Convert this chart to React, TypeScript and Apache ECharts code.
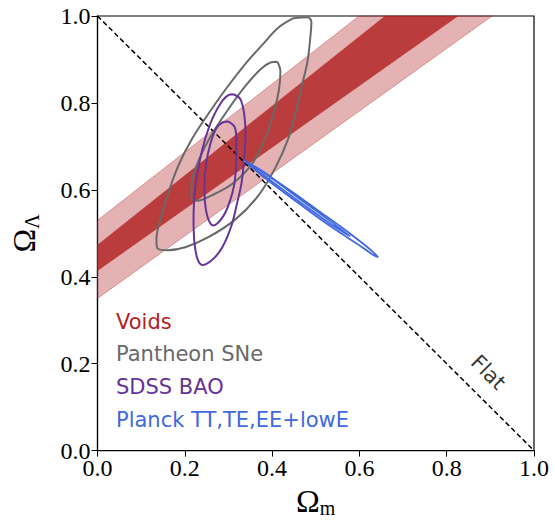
import React, { useEffect, useRef } from "react";
import * as echarts from "echarts";

// Axis range / ticks
const axisMin = 0;
const axisMax = 1;
const axisInterval = 0.2;

// Voids bands (polygon corners in data coordinates, clipped to the frame)
const voids2Sigma = [[0, 0.35], [0.904, 1.0], [0.599, 1.0], [0, 0.53]];
const voids1Sigma = [[0, 0.414], [0.826, 1.0], [0.659, 1.0], [0, 0.473]];

// Flat universe line
const flatLine = [[0, 1], [1, 0]];
const flatLabelPos = [0.895, 0.18];

// Pantheon SNe contours
const pantheonOuter = [
  [0.449, 0.995], [0.481, 0.997], [0.49, 0.986], [0.487, 0.945], [0.481, 0.895],
  [0.469, 0.843], [0.455, 0.782], [0.437, 0.718], [0.407, 0.65], [0.368, 0.586],
  [0.316, 0.532], [0.254, 0.491], [0.201, 0.468], [0.16, 0.461], [0.137, 0.466],
  [0.135, 0.486], [0.144, 0.532], [0.16, 0.586], [0.185, 0.655], [0.217, 0.718],
  [0.254, 0.775], [0.297, 0.836], [0.343, 0.895], [0.378, 0.934], [0.414, 0.973],
];
const pantheonInner = [
  [0.412, 0.895], [0.419, 0.873], [0.416, 0.832], [0.405, 0.782], [0.384, 0.718],
  [0.355, 0.661], [0.309, 0.614], [0.259, 0.586], [0.229, 0.575], [0.215, 0.582],
  [0.215, 0.609], [0.229, 0.661], [0.259, 0.723], [0.3, 0.786], [0.339, 0.839],
  [0.373, 0.877], [0.396, 0.893],
];

// SDSS BAO contours
const sdssOuter = [
  [0.311, 0.82], [0.327, 0.809], [0.336, 0.775], [0.339, 0.73], [0.336, 0.673],
  [0.33, 0.616], [0.32, 0.57], [0.307, 0.518], [0.286, 0.468], [0.263, 0.439],
  [0.24, 0.427], [0.229, 0.441], [0.222, 0.48], [0.22, 0.536], [0.224, 0.605],
  [0.233, 0.661], [0.247, 0.718], [0.265, 0.768], [0.286, 0.805], [0.3, 0.818],
];
const sdssInner = [
  [0.3, 0.757], [0.314, 0.745], [0.318, 0.718], [0.318, 0.673], [0.314, 0.616],
  [0.302, 0.57], [0.286, 0.536], [0.265, 0.518], [0.254, 0.532], [0.247, 0.564],
  [0.245, 0.609], [0.249, 0.661], [0.259, 0.707], [0.272, 0.741], [0.286, 0.755],
];

// Planck TT,TE,EE+lowE contours
const planckOuter = [
  [0.334, 0.668], [0.373, 0.646], [0.419, 0.614], [0.465, 0.582], [0.51, 0.549],
  [0.556, 0.516], [0.602, 0.481], [0.629, 0.459], [0.643, 0.445], [0.629, 0.452],
  [0.602, 0.471], [0.556, 0.501], [0.51, 0.533], [0.465, 0.566], [0.419, 0.6],
  [0.373, 0.636], [0.346, 0.659],
];
const planckInner = [
  [0.341, 0.665], [0.396, 0.629], [0.465, 0.578], [0.533, 0.528], [0.579, 0.493],
  [0.533, 0.522], [0.465, 0.571], [0.396, 0.622], [0.35, 0.656],
];

// Legend
const legendLabels = ["Voids", "Pantheon SNe", "SDSS BAO", "Planck TT,TE,EE+lowE"];
const legendColors = ["#b22222", "#696969", "#663399", "#4169e1"];

const close = (pts: number[][]) => [...pts, pts[0]];

const bandSeries = (pts: number[][], fill: string, stroke: string) => ({
  type: "custom",
  data: [0],
  silent: true,
  renderItem: (_p: any, api: any) => ({
    type: "polygon",
    shape: { points: pts.map((p) => api.coord(p)) },
    style: { fill, stroke, lineWidth: 1 },
  }),
});

const contour = (pts: number[][], color: string, width = 2) => ({
  type: "line",
  data: close(pts),
  showSymbol: false,
  symbol: "none",
  smooth: 0.35,
  silent: true,
  lineStyle: { color, width },
});

export default function App() {
  const ref = useRef<HTMLDivElement>(null);
  useEffect(() => {
    document.body.style.margin = "0";
    const chart = echarts.init(ref.current!, undefined, { renderer: "svg" });
    const serif = "'Liberation Serif', serif";
    const sans = "'DejaVu Sans', sans-serif";
    const axisCommon = {
      type: "value",
      min: axisMin,
      max: axisMax,
      interval: axisInterval,
      axisLine: { show: true, lineStyle: { color: "#000", width: 1.2 } },
      axisTick: { show: true, inside: false, length: 6, lineStyle: { color: "#000", width: 1 } },
      splitLine: { show: false },
      axisLabel: {
        color: "#000",
        fontFamily: serif,
        fontSize: 24,
        formatter: (v: number) => v.toFixed(1),
      },
    };
    const nameRich = {
      a: { fontFamily: serif, fontSize: 32, color: "#000" },
      b: { fontFamily: serif, fontSize: 20, color: "#000", padding: [15, 0, 0, 0] },
    };
    chart.setOption({
      animation: false,
      backgroundColor: "#fff",
      grid: {
        left: 97,
        top: 16,
        width: 437,
        height: 440,
        show: true,
        borderColor: "#000",
        borderWidth: 1.2,
        backgroundColor: "transparent",
      },
      xAxis: {
        ...axisCommon,
        axisLabel: { ...axisCommon.axisLabel, margin: 5 },
        name: "{a|Ω}{b|m}",
        nameLocation: "middle",
        nameGap: 30,
        nameTextStyle: { rich: nameRich },
      },
      yAxis: {
        ...axisCommon,
        axisLabel: { ...axisCommon.axisLabel, margin: 7 },
        name: "{a|Ω}{b|Λ}",
        nameLocation: "middle",
        nameRotate: 90,
        nameGap: 56,
        nameTextStyle: { rich: nameRich },
      },
      series: [
        {
          type: "line",
          data: flatLine,
          symbol: "none",
          silent: true,
          lineStyle: { color: "#000", width: 1.5, type: [5, 3] },
        },
        bandSeries(voids2Sigma, "rgba(178,34,34,0.35)", "rgba(178,34,34,0.35)"),
        bandSeries(voids1Sigma, "rgba(178,34,34,0.82)", "rgba(178,34,34,0.3)"),
        contour(pantheonOuter, "#696969"),
        contour(pantheonInner, "#696969"),
        contour(sdssOuter, "#663399"),
        contour(sdssInner, "#663399"),
        contour(planckOuter, "#4169e1", 1.8),
        contour(planckInner, "#4169e1", 1.8),
        {
          type: "scatter",
          data: [flatLabelPos],
          symbolSize: 0,
          silent: true,
          label: {
            show: true,
            position: "inside",
            formatter: "Flat",
            rotate: -45,
            color: "#000",
            fontFamily: sans,
            fontSize: 21,
          },
        },
      ],
      graphic: legendLabels.map((t, i) => ({
        type: "text",
        left: 116,
        top: 311 + i * 32.7,
        style: {
          text: t,
          fill: legendColors[i],
          font: `21px ${sans}`,
        },
      })),
    });
    return () => chart.dispose();
  }, []);
  return <div ref={ref} style={{ width: 555, height: 523 }} />;
}
